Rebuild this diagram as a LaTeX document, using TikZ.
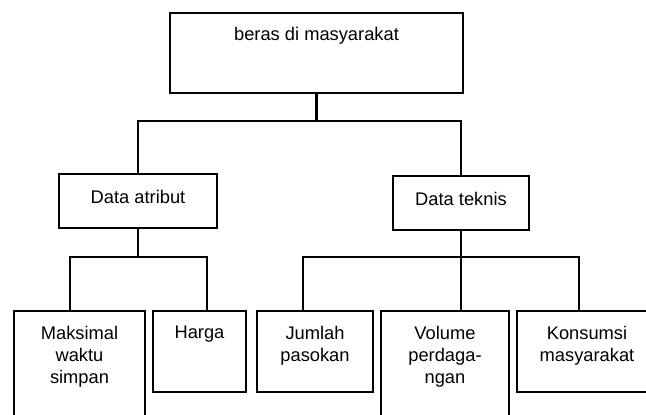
\documentclass[tikz,border=0pt]{standalone}
\usepackage{fontspec}
\setmainfont{Liberation Sans}
\usetikzlibrary{positioning}
\tikzset{box/.style={draw, line width=2.2pt, outer sep=0pt, inner sep=0pt},
  txt/.style={inner sep=0pt, align=center, font=\fontsize{18.3}{22}\selectfont},
  link/.style={line width=2.2pt}}

\begin{document}
\begin{tikzpicture}[x=1pt,y=-1pt]

  \useasboundingbox (0,0) rectangle (646,415);
  \clip (0,0) rectangle (646,415);

  \node [box, minimum width=293pt, minimum height=80pt] (top) at (316.5,53) {};
  \node [txt, below=14pt of top.north] (toptext) {beras di masyarakat};

  \node [box, minimum width=158pt, minimum height=54pt] (atribut) at (138,201) {};
  \node [txt, below=16pt of atribut.north] (atributtext) {Data atribut};
  \node [box, minimum width=136pt, minimum height=54pt] (teknis) at (461,203) {};
  \node [txt, below=16pt of teknis.north] (teknistext) {Data teknis};

  \node [box, minimum width=131pt, minimum height=129pt] (maks) at (79.5,375.5) {};
  \node [txt, below=15pt of maks.north] (makstext) {Maksimal\\waktu\\simpan};
  \node [box, minimum width=93pt, minimum height=81pt] (harga) at (199.5,351.5) {};
  \node [txt, below=15pt of harga.north] (hargatext) {Harga};

  \node [box, minimum width=116pt, minimum height=81pt] (jumlah) at (315,351.5) {};
  \node [txt, below=15pt of jumlah.north] (jumlahtext) {Jumlah\\pasokan};
  \node [box, minimum width=128pt, minimum height=129pt] (volume) at (445,375.5) {};
  \node [txt, below=15pt of volume.north] (volumetext) {Volume\\perdaga-\\ngan};
  \node [box, minimum width=140pt, minimum height=81pt] (konsumsi) at (587,351.5) {};
  \node [txt, below=15pt of konsumsi.north] (konsumsitext) {Konsumsi\\masyarakat};

  \draw [link] (top.south) -- ++(0,28) -| (atribut.north);
  \draw [link] (top.south) -- ++(0,28) -| (teknis.north);

  \draw [link] (atribut.south) -- ++(0,29) -| ([xshift=-9.5pt]maks.north);
  \draw [link] (atribut.south) -- ++(0,29) -| ([xshift=7.5pt]harga.north);

  \draw [link] (teknis.south) -- ++(0,27) -| ([xshift=-12pt]jumlah.north);
  \draw [link] (teknis.south) -- ([xshift=16pt]volume.north);
  \draw [link] (teknis.south) -- ++(0,27) -| ([xshift=-8pt]konsumsi.north);

\end{tikzpicture}
\end{document}
